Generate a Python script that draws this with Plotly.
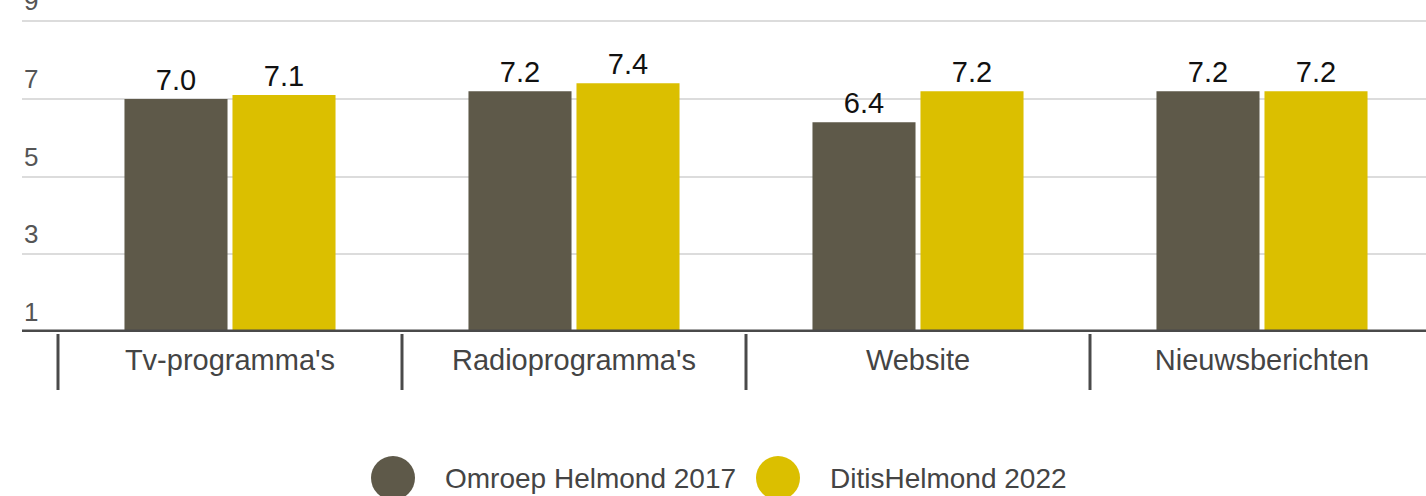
import plotly.graph_objects as go

categories = ["Tv-programma's", "Radioprogramma's", "Website", "Nieuwsberichten"]
series_names = ["Omroep Helmond 2017", "DitisHelmond 2022"]
values_2017 = [7.0, 7.2, 6.4, 7.2]
values_2022 = [7.1, 7.4, 7.2, 7.2]
colors = ["#5e5949", "#dbbf00"]
y_ticks = [1, 3, 5, 7, 9]

FONT = "Liberation Sans, Arial, sans-serif"
W, H = 1426, 496
ML, MB = 22, 164
plot_w = W - ML
plot_h = H - MB
cat_px = 344
first_left = 58 - ML
x_lo = -0.5 - first_left / cat_px
x_hi = x_lo + plot_w / cat_px
px_per_unit = 38.85
y_lo = 1
y_hi = 1 + plot_h / px_per_unit

fig = go.Figure()
for name, vals, col in zip(series_names, [values_2017, values_2022], colors):
    fig.add_trace(go.Bar(
        x=categories, y=vals, name=name, marker=dict(color=col, line=dict(width=0)),
        text=[f"{v:.1f}" for v in vals], textposition="outside",
        textfont=dict(size=29, color="#111111", family=FONT),
        cliponaxis=False, showlegend=False,
    ))

shapes = []
# baseline
shapes.append(dict(type="line", xref="paper", yref="y", x0=0, x1=1, y0=1, y1=1,
                   line=dict(color="#4a4a4a", width=5), layer="above"))
# category separators
for i in range(len(categories)):
    shapes.append(dict(type="line", xref="x", yref="paper", ysizemode="pixel", yanchor=0,
                       x0=i - 0.5, x1=i - 0.5, y0=-2, y1=-58,
                       line=dict(color="#4a4a4a", width=3)))

annotations = []
for t in y_ticks:
    annotations.append(dict(xref="paper", yref="y", x=0, y=t, xanchor="left", yanchor="bottom",
                            yshift=3, text=str(t), showarrow=False,
                            font=dict(size=26, color="#555555", family=FONT)))

# manual legend
leg_y = -(478 - plot_h) / plot_h
leg_items = [(393, 443), (778, 828)]
for (cx, tx), name, col in zip(leg_items, series_names, colors):
    shapes.append(dict(type="circle", xref="paper", yref="paper", xsizemode="pixel", ysizemode="pixel",
                       xanchor=(cx - ML) / plot_w, yanchor=leg_y, x0=-22, x1=22, y0=-22, y1=22,
                       fillcolor=col, line=dict(width=0)))
    annotations.append(dict(xref="paper", yref="paper", x=(tx - ML) / plot_w, y=leg_y,
                            xanchor="left", yanchor="middle", text=name, showarrow=False,
                            font=dict(size=28, color="#444444", family=FONT)))

fig.update_layout(
    width=W, height=H,
    margin=dict(l=ML, r=0, t=0, b=MB),
    paper_bgcolor="white", plot_bgcolor="white",
    barmode="group", bargap=0.372, bargroupgap=0.046,
    font=dict(family=FONT),
    xaxis=dict(range=[x_lo, x_hi], showgrid=False, showline=False, ticks="",
               tickfont=dict(size=29, color="#444444", family=FONT), ticklabelstandoff=8),
    yaxis=dict(range=[y_lo, y_hi], tickvals=y_ticks, showticklabels=False, showgrid=True,
               gridcolor="#dcdcdc", gridwidth=2, zeroline=False, showline=False),
    shapes=shapes, annotations=annotations, showlegend=False,
)

fig.write_html("out.html", config={"displayModeBar": False},
               post_script="document.body.style.margin='0';document.body.style.overflow='hidden';")
